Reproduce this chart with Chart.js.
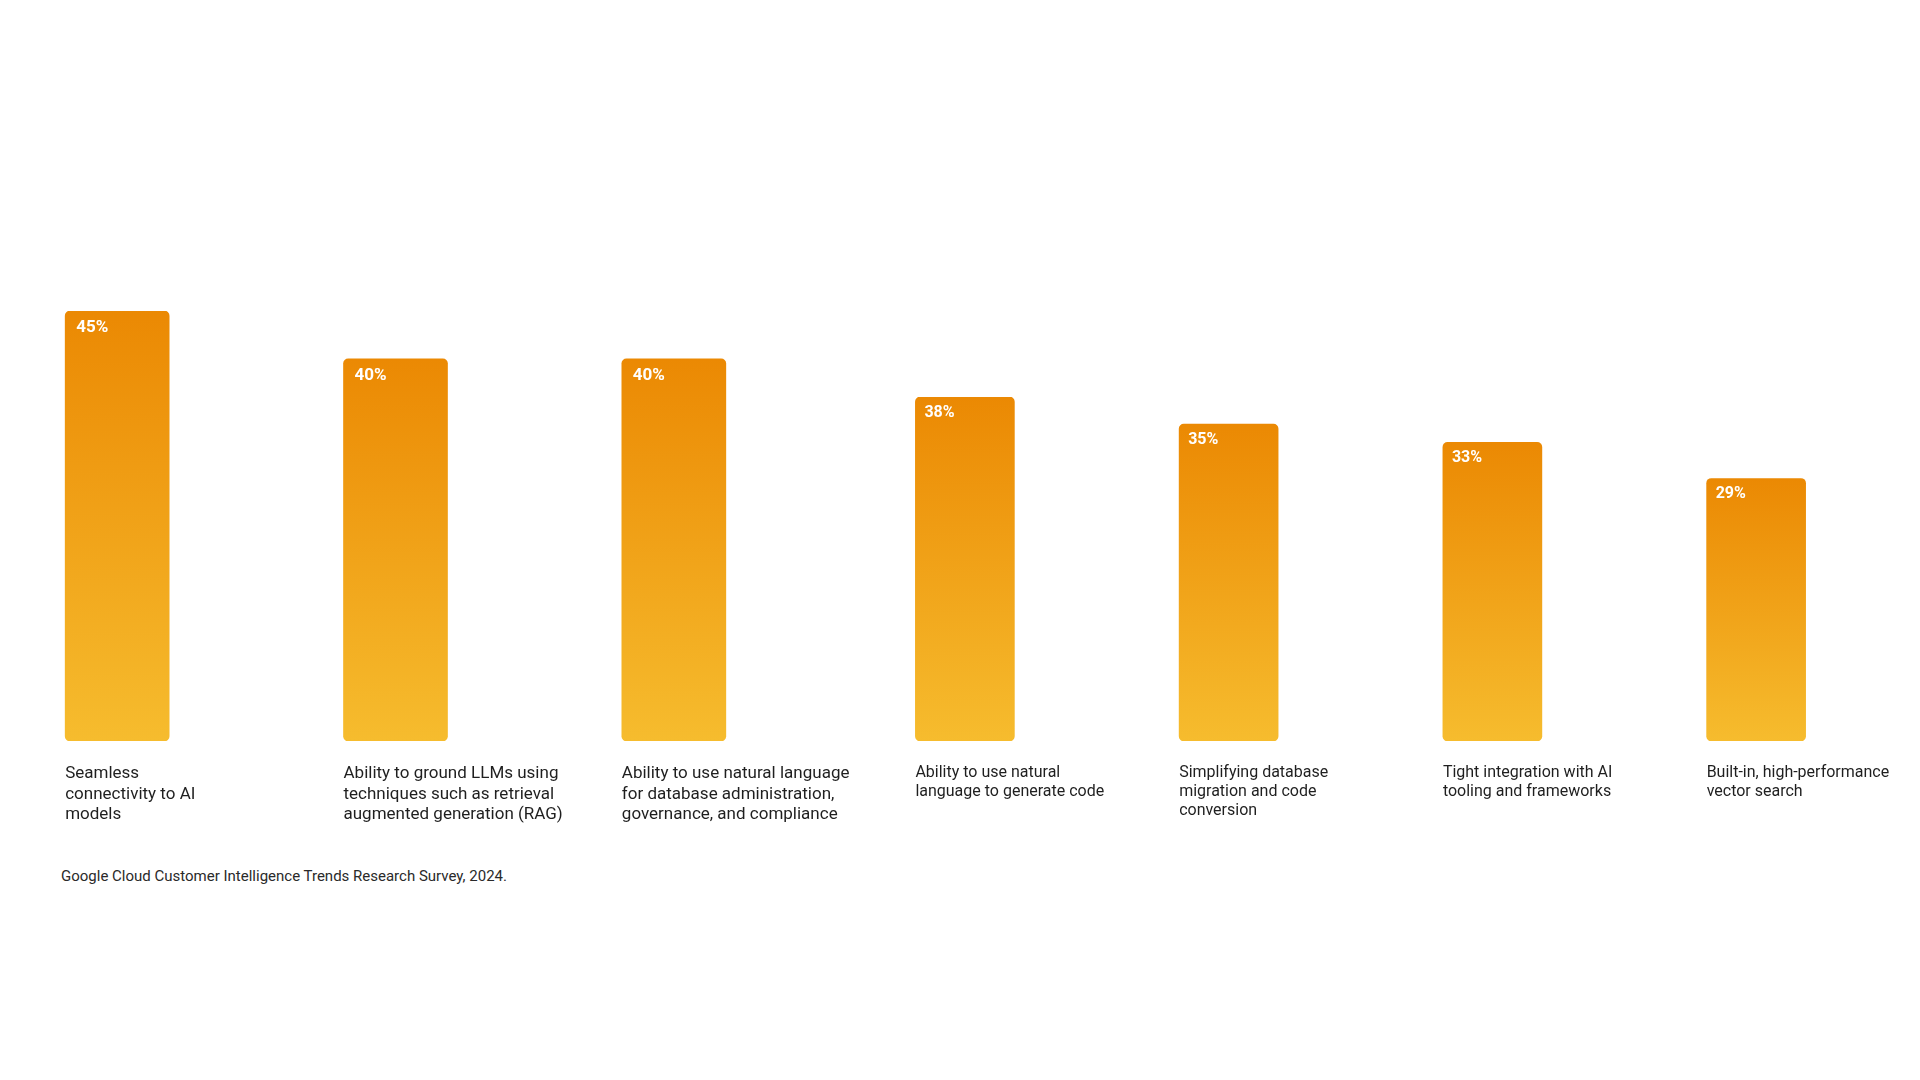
<!DOCTYPE html>
<html>
<head>
<meta charset="utf-8">
<script src="https://cdn.jsdelivr.net/npm/chart.js@4.4.1/dist/chart.umd.min.js"></script>
<style>
  html, body { margin: 0; padding: 0; background: #ffffff; }
  body { width: 1920px; height: 1080px; position: relative; overflow: hidden; font-family: Roboto, sans-serif; }
  canvas { position: absolute; }
  #leftChart { left: -22px; top: 311px; }
  #rightChart { left: 833px; top: 397px; }
  #source { position: absolute; left: 61px; top: 867px; font-size: 15px; color: #2a2a2a; }
</style>
</head>
<body>
<canvas id="leftChart" width="1005" height="540"></canvas>
<canvas id="rightChart" width="1165" height="454"></canvas>
<div id="source">Google Cloud Customer Intelligence Trends Research Survey, 2024.</div>
<script>
// Data - two panels, each with its own scale
const leftCategories = [
    ['Seamless', 'connectivity to AI', 'models'],
    ['Ability to ground LLMs using', 'techniques such as retrieval', 'augmented generation (RAG)'],
    ['Ability to use natural language', 'for database administration,', 'governance, and compliance']
];
const leftValues = [45, 40, 40];

const rightCategories = [
    ['Ability to use natural', 'language to generate code'],
    ['Simplifying database', 'migration and code', 'conversion'],
    ['Tight integration with AI', 'tooling and frameworks'],
    ['Built-in, high-performance', 'vector search']
];
const rightValues = [38, 35, 33, 29];

// Colors
const topColor = '#EB8903';
const bottomColor = '#F6BC2E';

// Vertical orange gradient per bar
function barGradient(context) {
    const { chart, dataIndex } = context;
    const { ctx, chartArea, scales } = chart;
    if (!chartArea || !scales.y) return bottomColor;
    const top = scales.y.getPixelForValue(context.dataset.data[dataIndex]);
    const bottom = scales.y.getPixelForValue(0);
    const g = ctx.createLinearGradient(0, top, 0, bottom);
    g.addColorStop(0, topColor);
    g.addColorStop(1, bottomColor);
    return g;
}

// Draws "45%" etc. in the top-left corner of each bar
const valueLabels = {
    id: 'valueLabels',
    afterDatasetsDraw(chart, args, opts) {
        const { ctx } = chart;
        const values = chart.data.datasets[0].data;
        ctx.save();
        ctx.fillStyle = '#ffffff';
        ctx.font = `bold ${opts.size}px Roboto`;
        ctx.textBaseline = 'middle';
        ctx.textAlign = 'left';
        chart.getDatasetMeta(0).data.forEach((bar, i) => {
            const { x, y, width } = bar.getProps(['x', 'y', 'width'], true);
            ctx.fillText(values[i] + '%', x - width / 2 + opts.dx, y + opts.dy);
        });
        ctx.restore();
    }
};

function makeChart(id, labels, values, cfg) {
    const ctx = document.getElementById(id).getContext('2d');
    return new Chart(ctx, {
        type: 'bar',
        data: {
            labels: labels,
            datasets: [{
                data: values,
                backgroundColor: barGradient,
                borderWidth: 0,
                borderRadius: 5,
                borderSkipped: false,
                barThickness: cfg.barWidth
            }]
        },
        options: {
            responsive: false,
            animation: false,
            layout: { padding: { left: 0, right: cfg.padRight, top: 0, bottom: 0 } },
            plugins: {
                legend: { display: false },
                tooltip: { enabled: false },
                valueLabels: { size: cfg.valueSize, dx: cfg.dx, dy: cfg.dy }
            },
            scales: {
                x: {
                    grid: { display: false, drawTicks: false },
                    border: { display: false },
                    ticks: {
                        autoSkip: false,
                        maxRotation: 0,
                        minRotation: 0,
                        align: 'start',
                        labelOffset: -cfg.barWidth / 2,
                        padding: cfg.tickPad,
                        color: '#1f1f1f',
                        font: { family: 'Roboto', size: cfg.labelSize, lineHeight: 1.2 }
                    },
                    afterFit: (scale) => { scale.height = 110; }
                },
                y: {
                    display: false,
                    min: 0,
                    max: Math.max(...values)
                }
            }
        },
        plugins: [valueLabels]
    });
}

makeChart('leftChart', leftCategories, leftValues, {
    barWidth: 104, padRight: 170, labelSize: 17, tickPad: 23, valueSize: 17, dx: 11, dy: 17
});
makeChart('rightChart', rightCategories, rightValues, {
    barWidth: 99, padRight: 110, labelSize: 16, tickPad: 22, valueSize: 16, dx: 9, dy: 16
});
</script>
</body>
</html>
